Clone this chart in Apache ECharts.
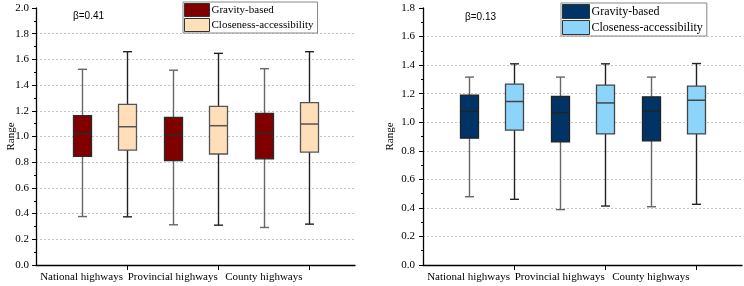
<!DOCTYPE html>
<html lang="en">
<head>
    <meta charset="utf-8">
    <title>box</title>
    <script src="https://cdn.jsdelivr.net/npm/echarts@6/dist/echarts.min.js"></script>
    <style>
        html, body { margin: 0; padding: 0; background: #fff; }
        #chart { width: 744px; height: 286px; }
    </style>
</head>
<body>
<div id="chart"></div>
<script>
    // categories along the x axis (gravity box at slot 2i+1, closeness box at 2i+2)
    var categories = ['National highways', 'Provincial highways', 'County highways'];
    var seriesNames = ['Gravity-based', 'Closeness-accessibility'];
    var betaLabels = ['β=0.41', 'β=0.13'];

    // [min, Q1, median, Q3, max]
    var leftGravity = [
        [0.377, 0.846, 1.024, 1.162, 1.523],
        [0.313, 0.812, 1.014, 1.149, 1.516],
        [0.292, 0.826, 1.030, 1.180, 1.528]
    ];
    var leftCloseness = [
        [0.375, 0.894, 1.076, 1.250, 1.660],
        [0.310, 0.864, 1.084, 1.234, 1.647],
        [0.318, 0.879, 1.097, 1.264, 1.660]
    ];
    var rightGravity = [
        [0.478, 0.888, 1.075, 1.190, 1.316],
        [0.388, 0.862, 1.067, 1.180, 1.316],
        [0.408, 0.869, 1.079, 1.178, 1.316]
    ];
    var rightCloseness = [
        [0.460, 0.944, 1.145, 1.267, 1.409],
        [0.413, 0.918, 1.135, 1.260, 1.409],
        [0.425, 0.918, 1.154, 1.253, 1.411]
    ];

    var leftYMax = 2.0;
    var rightYMax = 1.8;

    // 8 slots: 0..7
    var slots = ['', categories[0], '', categories[1], '', categories[2], '', ''];

    function withSlot(rows, offset) {
        return rows.map(function (r, i) { return [2 * i + offset].concat(r); });
    }

    function boxRenderer(fill, border, whisker) {
        return function (params, api) {
            var x = api.value(0);
            var lo = api.coord([x, api.value(1)]);
            var q1 = api.coord([x, api.value(2)]);
            var md = api.coord([x, api.value(3)]);
            var q3 = api.coord([x, api.value(4)]);
            var hi = api.coord([x, api.value(5)]);
            var cx = Math.round(lo[0]) + 0.5;
            var half = 9, cap = 4.5;
            var wStyle = { stroke: whisker, lineWidth: 1.4 };
            return {
                type: 'group',
                children: [
                    { type: 'line', shape: { x1: cx, y1: hi[1], x2: cx, y2: q3[1] }, style: wStyle },
                    { type: 'line', shape: { x1: cx, y1: q1[1], x2: cx, y2: lo[1] }, style: wStyle },
                    { type: 'line', shape: { x1: cx - cap, y1: hi[1], x2: cx + cap, y2: hi[1] }, style: wStyle },
                    { type: 'line', shape: { x1: cx - cap, y1: lo[1], x2: cx + cap, y2: lo[1] }, style: wStyle },
                    { type: 'rect', shape: { x: cx - half, y: q3[1], width: 2 * half, height: q1[1] - q3[1] },
                        style: { fill: fill, stroke: border, lineWidth: 1.3 } },
                    { type: 'line', shape: { x1: cx - half, y1: md[1], x2: cx + half, y2: md[1] },
                        style: { stroke: border, lineWidth: 1.5 } }
                ]
            };
        };
    }

    var serif = 'Liberation Serif';

    function xAxisCfg(gridIndex) {
        return {
            type: 'category', gridIndex: gridIndex, data: slots, boundaryGap: false,
            axisLine: { lineStyle: { color: '#000', width: 1.3 } },
            axisTick: { length: 5, lineStyle: { color: '#000' },
                interval: function (i) { return i > 0 && i % 2 === 0 && i < 7; } },
            axisLabel: { margin: 7, color: '#000', fontFamily: serif, fontSize: 11,
                interval: function (i) { return i % 2 === 1 && i < 7; } },
            splitLine: { show: false }
        };
    }

    function yAxisCfg(gridIndex, max, nameGap, labelMargin) {
        return {
            type: 'value', gridIndex: gridIndex, min: 0, max: max, interval: 0.2,
            name: 'Range', nameLocation: 'middle', nameGap: nameGap, nameMoveOverlap: false,
            nameTextStyle: { fontFamily: serif, fontSize: 11, color: '#000' },
            axisLine: { show: true, lineStyle: { color: '#000', width: 1.3 } },
            axisTick: { show: true, length: 4, lineStyle: { color: '#000' } },
            minorTick: { show: true, splitNumber: 2, length: 2, lineStyle: { color: '#000' } },
            axisLabel: { margin: labelMargin, color: '#000', fontFamily: serif, fontSize: 11,
                formatter: function (v) { return v.toFixed(1); } },
            splitLine: { show: true, showMaxLine: false, lineStyle: { color: '#c4c4c4', type: [2, 2], width: 1 } }
        };
    }

    function legendCfg(left, top, fs, w, h, colors) {
        return {
            left: left, top: top, orient: 'vertical',
            itemWidth: w, itemHeight: h, itemGap: 1, icon: 'rect',
            padding: [1, 4, 1, 1],
            borderColor: '#888', borderWidth: 1, backgroundColor: '#fff',
            selectedMode: false,
            textStyle: { fontFamily: serif, fontSize: fs, color: '#000', padding: [0, 0, 0, -3] },
            data: seriesNames.map(function (n, i) {
                return { name: n, itemStyle: { color: colors[i], borderColor: '#333', borderWidth: 1 } };
            })
        };
    }

    var leftColors = ['#800000', '#FFDFBA'];
    var rightColors = ['#003466', '#8DD4FA'];

    function boxSeries(name, gi, rows, offset, fill, border, whisker) {
        return {
            name: name, type: 'custom', xAxisIndex: gi, yAxisIndex: gi,
            itemStyle: { color: fill, borderColor: border },
            encode: { x: 0, y: [1, 2, 3, 4, 5] },
            data: withSlot(rows, offset),
            renderItem: boxRenderer(fill, border, whisker)
        };
    }

    var chart = echarts.init(document.getElementById('chart'));
    chart.setOption({
        animation: false,
        backgroundColor: '#fff',
        title: [
            { text: betaLabels[0], left: 73, top: 11, padding: 0,
                textStyle: { fontSize: 10, fontWeight: 'normal', fontFamily: 'Liberation Sans', color: '#000' } },
            { text: betaLabels[1], left: 465, top: 12, padding: 0,
                textStyle: { fontSize: 10, fontWeight: 'normal', fontFamily: 'Liberation Sans', color: '#000' } }
        ],
        legend: [
            legendCfg(183, 2, 11, 25, 13, leftColors),
            legendCfg(561, 3, 12, 27, 14, rightColors)
        ],
        grid: [
            { left: 36, top: 8, width: 319, height: 257 },
            { left: 423, top: 8, width: 319, height: 257 }
        ],
        xAxis: [xAxisCfg(0), xAxisCfg(1)],
        yAxis: [yAxisCfg(0, leftYMax, 19, 7), yAxisCfg(1, rightYMax, 27, 8)],
        series: [
            boxSeries(seriesNames[0], 0, leftGravity, 1, leftColors[0], '#2a2a2a', '#666'),
            boxSeries(seriesNames[1], 0, leftCloseness, 2, leftColors[1], '#555', '#222'),
            boxSeries(seriesNames[0], 1, rightGravity, 1, rightColors[0], '#222', '#666'),
            boxSeries(seriesNames[1], 1, rightCloseness, 2, rightColors[1], '#444', '#222')
        ]
    });
</script>
</body>
</html>
